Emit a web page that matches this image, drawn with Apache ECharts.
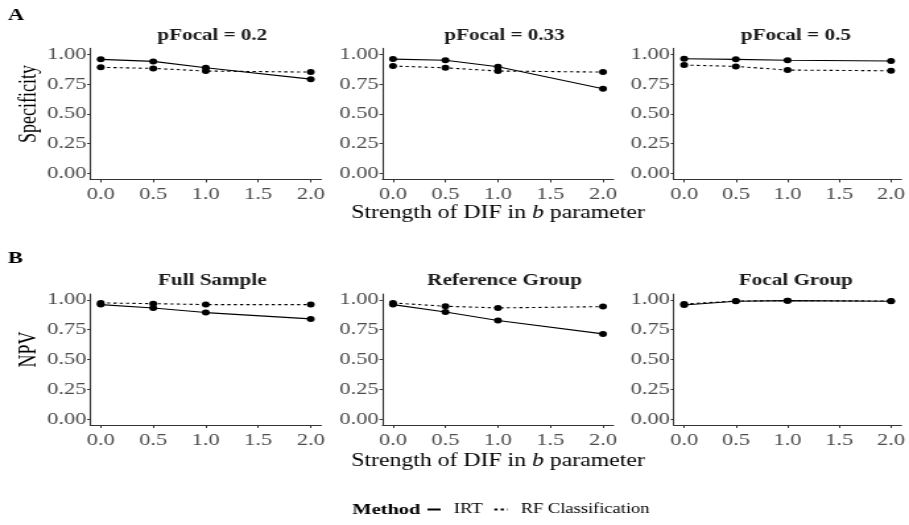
<!DOCTYPE html>
<html>
<head>
<meta charset="utf-8">
<script src="https://cdn.jsdelivr.net/npm/echarts@6/dist/echarts.min.js"></script>
<style>
  html, body { margin: 0; padding: 0; background: #fff; overflow: hidden; }
  /* the reference is stretched sideways, so the chart is drawn narrow and widened */
  #main { width: 689px; height: 525px; transform: scaleX(1.3193); transform-origin: 0 0; }
</style>
</head>
<body>
<div id="main"></div>
<script>
  // DIF strength (x)
  var strength = [0, 0.5, 1, 2]
  var xTicks = [0, 0.5, 1, 1.5, 2]
  var yTicks = [0, 0.25, 0.5, 0.75, 1]

  var topPanels = ['pFocal = 0.2', 'pFocal = 0.33', 'pFocal = 0.5']
  var bottomPanels = ['Full Sample', 'Reference Group', 'Focal Group']

  // Specificity, one row per pFocal panel
  var specIRT = [
    [0.958, 0.941, 0.887, 0.792],
    [0.960, 0.950, 0.896, 0.711],
    [0.963, 0.958, 0.950, 0.944]
  ]
  var specRF = [
    [0.891, 0.882, 0.860, 0.851],
    [0.902, 0.887, 0.860, 0.851],
    [0.910, 0.899, 0.868, 0.862]
  ]
  // NPV, one row per group panel
  var npvIRT = [
    [0.961, 0.933, 0.894, 0.841],
    [0.961, 0.899, 0.827, 0.715],
    [0.958, 0.989, 0.994, 0.989]
  ]
  var npvRF = [
    [0.975, 0.969, 0.961, 0.961],
    [0.975, 0.947, 0.933, 0.944],
    [0.966, 0.991, 0.994, 0.991]
  ]

  var font = 'Liberation Serif'
  var lefts = [68.4, 289.9, 510.7]
  var plotW = 175.1
  var tops = [48.4, 294]
  var plotH = 131

  var grid = []
  var xAxis = []
  var yAxis = []
  var series = []
  var title = [
    { text: 'A', left: 1, top: 2, textStyle: { fontFamily: font, fontWeight: 'bold', fontSize: 17, color: '#000' } },
    { text: 'B', left: 1, top: 245, textStyle: { fontFamily: font, fontWeight: 'bold', fontSize: 17, color: '#000' } },
    { text: 'Method', left: 262, top: 497, textStyle: { fontFamily: font, fontWeight: 'bold', fontSize: 15.5, color: '#000' } }
  ]

  function pairs(vals) {
    return strength.map(function (s, i) { return [s, vals[i]] })
  }

  for (var r = 0; r < 2; r++) {
    for (var c = 0; c < 3; c++) {
      var k = r * 3 + c
      grid.push({ left: lefts[c], top: tops[r], width: plotW, height: plotH })
      title.push({
        text: r === 0 ? topPanels[c] : bottomPanels[c],
        left: lefts[c] + plotW / 2,
        top: r === 0 ? 23 : 268,
        textAlign: 'center',
        textStyle: { fontFamily: font, fontWeight: 'bold', fontSize: 16, color: '#1a1a1a' }
      })
      xAxis.push({
        type: 'value',
        gridIndex: k,
        min: -0.1,
        max: 2.1,
        name: c === 1 ? 'Strength of DIF in {it|b} parameter' : '',
        nameLocation: 'middle',
        nameGap: r === 0 ? 25 : 27,
        nameTextStyle: {
          fontFamily: font, fontSize: 18, color: '#000',
          rich: { it: { fontFamily: font, fontSize: 18, fontStyle: 'italic', color: '#000' } }
        },
        axisLine: { show: true, onZero: false, lineStyle: { color: '#333', width: 1.1 } },
        axisTick: { show: true, length: 3, customValues: xTicks, lineStyle: { color: '#333' } },
        axisLabel: {
          customValues: xTicks, margin: 7,
          fontFamily: font, fontSize: 17, color: '#4d4d4d',
          formatter: function (v) { return v.toFixed(1) }
        },
        splitLine: { show: false }
      })
      yAxis.push({
        type: 'value',
        gridIndex: k,
        min: -0.05,
        max: 1.05,
        name: c === 0 ? (r === 0 ? 'Specificity' : 'NPV') : '',
        nameLocation: 'middle',
        nameGap: 33,
        nameTextStyle: { fontFamily: font, fontSize: 18, color: '#000', padding: [0, 0, 0, 20] },
        axisLine: { show: true, onZero: false, lineStyle: { color: '#333', width: 1.1 } },
        axisTick: { show: true, length: 2.3, customValues: yTicks, lineStyle: { color: '#333' } },
        axisLabel: {
          customValues: yTicks, margin: 3,
          fontFamily: font, fontSize: 17, color: '#4d4d4d',
          formatter: function (v) { return v.toFixed(2) }
        },
        splitLine: { show: false }
      })
      var irt = r === 0 ? specIRT[c] : npvIRT[c]
      var rf = r === 0 ? specRF[c] : npvRF[c]
      series.push({
        name: 'IRT', type: 'line', xAxisIndex: k, yAxisIndex: k,
        data: pairs(irt), symbol: 'circle', symbolSize: 6, color: '#000',
        lineStyle: { color: '#000', width: 1.1, type: 'solid' },
        itemStyle: { color: '#000' }, animation: false
      })
      series.push({
        name: 'RF Classification', type: 'line', xAxisIndex: k, yAxisIndex: k,
        data: pairs(rf), symbol: 'circle', symbolSize: 6, color: '#000',
        lineStyle: { color: '#000', width: 1.1, type: [2.4, 2.4] },
        itemStyle: { color: '#000' }, animation: false
      })
    }
  }

  var chart = echarts.init(document.getElementById('main'))
  chart.setOption({
    backgroundColor: '#fff',
    animation: false,
    title: title,
    grid: grid,
    xAxis: xAxis,
    yAxis: yAxis,
    legend: {
      data: ['IRT', 'RF Classification'],
      left: 318,
      top: 497.5,
      itemWidth: 10,
      itemHeight: 14,
      itemGap: 8,
      itemStyle: { opacity: 0 },
      textStyle: { fontFamily: font, fontSize: 14, color: '#000', padding: [0, 0, 0, 5] }
    },
    series: series
  })
</script>
</body>
</html>
